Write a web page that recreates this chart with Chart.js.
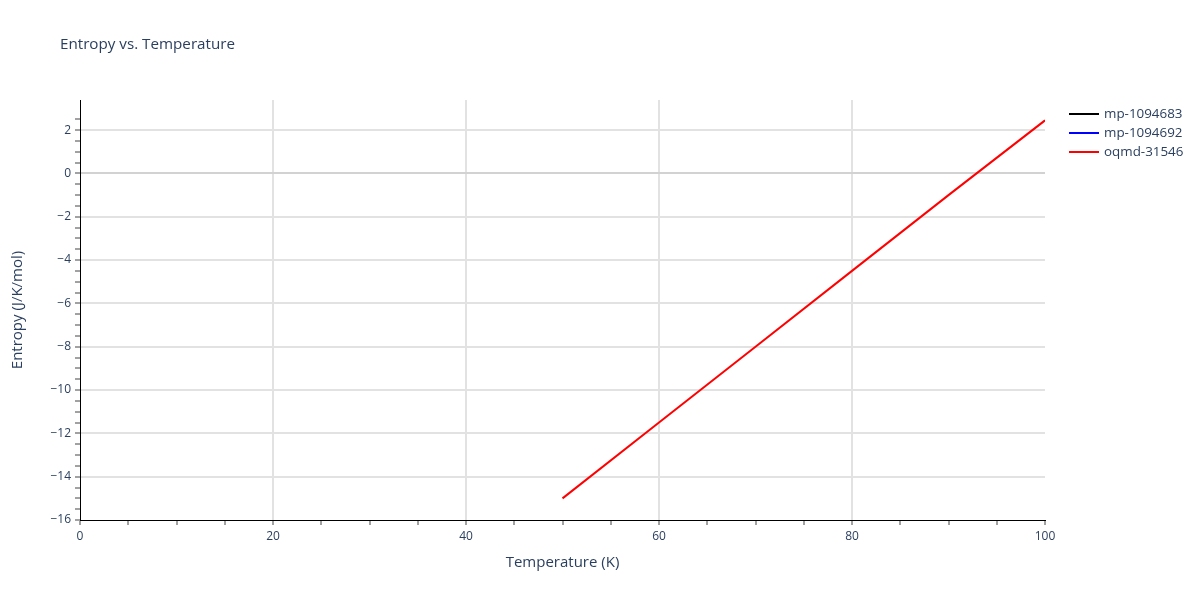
<!DOCTYPE html>
<html><head><meta charset="utf-8">
<script src="https://cdn.jsdelivr.net/npm/chart.js@4/dist/chart.umd.min.js"></script>
<style>html,body{margin:0;padding:0;background:#fff}#wrap{width:1200px;height:600px}</style>
</head><body><div id="wrap"><canvas id="c" width="1200" height="600"></canvas></div>
<script>
const temperatures = [50, 60, 70, 80, 90, 100];
const seriesNames = ['mp-1094683', 'mp-1094692', 'oqmd-31546'];
const seriesColors = ['#000000', '#0000ff', '#ff0000'];
const mp1094683 = [];
const mp1094692 = [];
const oqmd31546 = [-15.0, -11.5, -8.0, -4.5, -1.0, 2.45];
const xTickLabels = [0, 20, 40, 60, 80, 100];
const yTickLabels = [-16, -14, -12, -10, -8, -6, -4, -2, 0, 2];

const FONT = '"Open Sans", "Liberation Sans", Arial, sans-serif';
const TXT = '#2a3f5f';
const fmt = v => (v < 0 ? '\u2212' + Math.abs(v) : String(v));
const toPts = arr => arr.map((y, i) => ({x: temperatures[i], y}));
const allSeries = [mp1094683, mp1094692, oqmd31546];

const decor = {
  id: 'decor',
  afterDraw(chart) {
    const ctx = chart.ctx;
    const ca = chart.chartArea;
    ctx.save();
    ctx.fillStyle = TXT;
    ctx.font = '15.2px ' + FONT;
    ctx.textAlign = 'left'; ctx.textBaseline = 'middle';
    ctx.fillText('Entropy vs. Temperature', 60, 45);
    ctx.font = '15px ' + FONT;
    ctx.textAlign = 'center';
    ctx.fillText('Temperature (K)', (ca.left + ca.right) / 2, 563);
    ctx.translate(18, (ca.top + ca.bottom) / 2);
    ctx.rotate(-Math.PI / 2);
    ctx.fillText('Entropy (J/K/mol)', 0, 0);
    ctx.restore();
    ctx.save();
    ctx.font = '13.4px ' + FONT;
    ctx.textBaseline = 'middle'; ctx.textAlign = 'left';
    seriesNames.forEach((n, i) => {
      const y = 114 + i * 19;
      ctx.strokeStyle = seriesColors[i]; ctx.lineWidth = 2;
      ctx.beginPath(); ctx.moveTo(1069, y); ctx.lineTo(1099, y); ctx.stroke();
      ctx.fillStyle = TXT;
      ctx.fillText(n, 1104, y);
    });
    ctx.restore();
  }
};

new Chart(document.getElementById('c'), {
  type: 'line',
  data: {
    datasets: seriesNames.map((n, i) => ({
      label: n, data: toPts(allSeries[i]), borderColor: seriesColors[i],
      backgroundColor: seriesColors[i], borderWidth: 2, pointRadius: 0,
      tension: 0, fill: false, order: 3 - i
    }))
  },
  options: {
    responsive: false, animation: false,
    layout: {padding: {top: 100, right: 155, left: 0, bottom: 0}},
    plugins: {legend: {display: false}, title: {display: false}, tooltip: {enabled: false}},
    scales: {
      x: {
        type: 'linear', min: 0, max: 100,
        afterFit(s) { s.height = 80; },
        ticks: {
          stepSize: 5, autoSkip: false, maxRotation: 0, padding: 4,
          color: TXT, font: {family: FONT, size: 12},
          callback: v => (xTickLabels.includes(v) ? fmt(v) : '')
        },
        grid: {
          color: c => (c.tick && c.tick.value % 20 === 0 && c.tick.value !== 0 && c.tick.value !== 100 ? '#e2e2e2' : 'rgba(0,0,0,0)'),
          lineWidth: 2, tickLength: 5, tickWidth: 1,
          tickColor: '#444'
        },
        border: {color: '#000', width: 1}
      },
      y: {
        type: 'linear', min: -16, max: 3.39,
        afterFit(s) { s.width = 80; },
        ticks: {
          stepSize: 0.5, autoSkip: false, padding: 4,
          color: TXT, font: {family: FONT, size: 12},
          callback: v => (yTickLabels.includes(v) ? fmt(v) : '')
        },
        grid: {
          color: c => {
            if (!c.tick) return 'rgba(0,0,0,0)';
            const v = c.tick.value;
            if (v === 0) return '#d2d2d2';
            if (v % 2 === 0 && v !== -16) return '#e2e2e2';
            return 'rgba(0,0,0,0)';
          },
          lineWidth: 2,
          tickLength: 5, tickWidth: 1,
          tickColor: c => (c.tick && Math.abs(c.tick.value * 2 - Math.round(c.tick.value * 2)) < 1e-6 ? '#444' : 'rgba(0,0,0,0)')
        },
        border: {color: '#000', width: 1}
      }
    }
  },
  plugins: [decor]
});
</script>
</body></html>
